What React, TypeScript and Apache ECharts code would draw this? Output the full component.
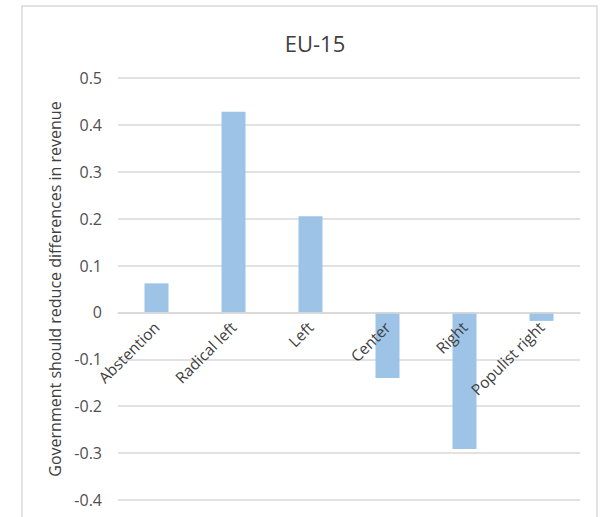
import React, { useEffect, useRef } from "react";
import * as echarts from "echarts";

const categories = ["Abstention", "Radical left", "Left", "Center", "Right", "Populist right"];
const values = [0.062, 0.428, 0.205, -0.14, -0.291, -0.018];
const yTicks = { min: -0.4, max: 0.5, interval: 0.1 };
const titleText = "EU-15";
const yAxisName = "Government should reduce differences in revenue";

const FONT = "Open Sans";

export default function App() {
  const ref = useRef<HTMLDivElement>(null);
  useEffect(() => {
    if (!ref.current) return;
    const chart = echarts.init(ref.current, undefined, { renderer: "svg" });
    chart.setOption({
      animation: false,
      backgroundColor: "#ffffff",
      title: {
        text: titleText,
        left: 310,
        textAlign: "center",
        top: 27,
        textStyle: { fontFamily: FONT, fontSize: 22, fontWeight: "normal", color: "#404040" },
      },
      graphic: [
        {
          type: "rect",
          shape: { x: 22, y: 6, width: 575, height: 530 },
          style: { fill: "none", stroke: "#d9d9d9", lineWidth: 1.5 },
          silent: true,
        },
      ],
      grid: { left: 118, right: 22, top: 78, bottom: 17, containLabel: false, outerBoundsMode: "none" },
      xAxis: {
        type: "category",
        data: categories,
        boundaryGap: true,
        offset: 0,
        z: 10,
        axisLine: { show: true, onZero: false, lineStyle: { color: "#d9d9d9", width: 1.5 } },
        axisTick: { show: false },
        axisLabel: {
          rotate: 45,
          margin: 12,
          interval: 0,
          fontFamily: FONT,
          fontSize: 15.5,
          color: "#404040",
        },
        splitLine: { show: false },
      },
      yAxis: {
        type: "value",
        min: yTicks.min,
        max: yTicks.max,
        interval: yTicks.interval,
        name: yAxisName,
        nameLocation: "middle",
        nameRotate: 90,
        nameGap: 50,
        nameTextStyle: { fontFamily: FONT, fontSize: 16, color: "#404040" },
        axisLine: { show: false },
        axisTick: { show: false },
        axisLabel: {
          margin: 16,
          fontFamily: FONT,
          fontSize: 16,
          color: "#505050",
          formatter: (v: number) => (Math.abs(v) < 1e-9 ? "0" : v.toFixed(1)),
        },
        splitLine: { show: true, lineStyle: { color: "#d9d9d9", width: 1.5 } },
      },
      series: [
        {
          type: "bar",
          data: values,
          barWidth: 24,
          z: 2,
          itemStyle: { color: "#9dc3e6" },
        },
      ],
    });
    // Move the category axis (line + labels) up to the value-axis zero line.
    const zeroY = chart.convertToPixel({ yAxisIndex: 0 }, 0) as number;
    const bottomY = chart.convertToPixel({ yAxisIndex: 0 }, yTicks.min) as number;
    if (isFinite(zeroY) && isFinite(bottomY)) {
      chart.setOption({ xAxis: { offset: -(bottomY - zeroY) } });
    }
    return () => chart.dispose();
  }, []);
  return (
    <div
      ref={ref}
      style={{ position: "absolute", left: 0, top: 0, width: 602, height: 517 }}
    />
  );
}
